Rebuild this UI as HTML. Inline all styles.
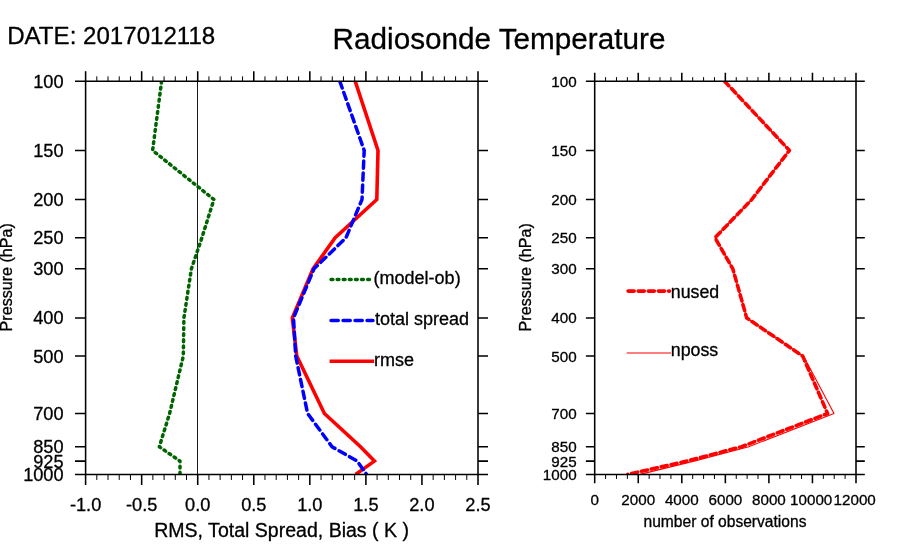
<!DOCTYPE html><html><head><meta charset="utf-8"><style>html,body{margin:0;padding:0;background:#fff}svg{display:block;will-change:transform}text{font-family:"Liberation Sans",sans-serif;fill:#000;stroke:#000;stroke-width:0.3px;stroke-linejoin:round}</style></head><body>
<svg width="900" height="560" viewBox="0 0 900 560">
<rect width="900" height="560" fill="#fff"/>
<text x="7.2" y="43.8" font-size="24.1">DATE: 2017012118</text>
<text x="499" y="48.8" font-size="29.7" text-anchor="middle">Radiosonde Temperature</text>
<defs><clipPath id="c1"><rect x="85.6" y="81.15" width="392.4" height="393.29999999999995"/></clipPath><clipPath id="c2"><rect x="594.7" y="81.15" width="261.29999999999995" height="393.29999999999995"/></clipPath></defs>
<g fill="none" stroke-linejoin="round">
<line x1="197.5" y1="81.15" x2="197.5" y2="474.45" stroke="#000" stroke-width="0.9"/>
<g clip-path="url(#c1)">
<polyline points="161.6,81.2 152.6,150.4 213.9,199.5 201.9,237.7 191.4,268.8 183.9,317.9 183.3,356.1 169.6,413.5 159.3,446.7 180.0,461.1 180.0,474.4" stroke="#006400" stroke-width="3.5" stroke-dasharray="1.8 4.3" stroke-linecap="round"/>
<polyline points="355.2,81.2 378.0,150.4 376.8,199.5 335.2,237.7 313.0,268.8 292.3,317.9 296.8,356.1 324.4,413.5 360.5,446.7 374.4,461.1 355.6,474.4" stroke="#ff0000" stroke-width="3.6" stroke-linejoin="miter"/>
<polyline points="339.8,81.2 364.2,150.4 362.0,199.5 346.0,237.7 314.0,268.8 293.5,317.9 295.7,356.1 307.6,413.5 332.0,446.7 357.2,461.1 366.6,474.4" stroke="#0000ff" stroke-width="3.5" stroke-dasharray="7.2 4.8" stroke-linecap="round"/>
</g>
<line x1="331.05" y1="279.4" x2="369.5" y2="279.4" stroke="#006400" stroke-width="3.5" stroke-dasharray="1.8 4.3" stroke-linecap="round"/>
<line x1="331.05" y1="320.4" x2="372.95" y2="320.4" stroke="#0000ff" stroke-width="3.5" stroke-dasharray="7.2 4.8" stroke-linecap="round"/>
<line x1="329.6" y1="361.3" x2="374.2" y2="361.3" stroke="#ff0000" stroke-width="3.6"/>
<g clip-path="url(#c2)">
<polyline points="724.6,81.2 789.4,150.4 751.8,199.5 715.0,237.7 732.8,268.8 746.7,317.9 803.5,356.1 834.0,413.5 748.8,446.7 694.0,461.1 640.0,474.4" stroke="#ff0000" stroke-width="1.1"/>
<polyline points="724.6,81.2 789.4,150.4 751.8,199.5 715.0,237.7 732.8,268.8 746.7,317.9 802.7,356.1 827.6,413.5 741.6,446.7 687.0,461.1 627.6,474.4" stroke="#ff0000" stroke-width="3.6" stroke-dasharray="6.1 4.0" stroke-linecap="round"/>
</g>
<line x1="628.1" y1="291.1" x2="669.5" y2="291.1" stroke="#ff0000" stroke-width="3.6" stroke-dasharray="6.1 4.0" stroke-linecap="round"/>
<line x1="626.6" y1="353" x2="671" y2="353" stroke="#ff0000" stroke-width="1.2"/>
</g>
<g stroke="#000" fill="none" stroke-linecap="butt">
<path stroke-width="1.55" d="M85.6,71.35000000000001 V484.95 M478.0,71.35000000000001 V484.95 M75.0,81.15 H488.0 M75.0,474.45 H488.0"/>
<path stroke-width="1.55" d="M141.66,71.35000000000001 V81.15 M141.66,474.45 V484.95 M197.71,71.35000000000001 V81.15 M197.71,474.45 V484.95 M253.77,71.35000000000001 V81.15 M253.77,474.45 V484.95 M309.83,71.35000000000001 V81.15 M309.83,474.45 V484.95 M365.89,71.35000000000001 V81.15 M365.89,474.45 V484.95 M421.94,71.35000000000001 V81.15 M421.94,474.45 V484.95 M75.0,150.41 H85.6 M478.0,150.41 H488.0 M75.0,199.55 H85.6 M478.0,199.55 H488.0 M75.0,237.66 H85.6 M478.0,237.66 H488.0 M75.0,268.80 H85.6 M478.0,268.80 H488.0 M75.0,317.94 H85.6 M478.0,317.94 H488.0 M75.0,356.05 H85.6 M478.0,356.05 H488.0 M75.0,413.53 H85.6 M478.0,413.53 H488.0 M75.0,446.69 H85.6 M478.0,446.69 H488.0 M75.0,461.13 H85.6 M478.0,461.13 H488.0"/>
<path stroke-width="1" d="M96.81,76.35000000000001 V81.15 M96.81,474.45 V479.95 M108.02,76.35000000000001 V81.15 M108.02,474.45 V479.95 M119.23,76.35000000000001 V81.15 M119.23,474.45 V479.95 M130.45,76.35000000000001 V81.15 M130.45,474.45 V479.95 M152.87,76.35000000000001 V81.15 M152.87,474.45 V479.95 M164.08,76.35000000000001 V81.15 M164.08,474.45 V479.95 M175.29,76.35000000000001 V81.15 M175.29,474.45 V479.95 M186.50,76.35000000000001 V81.15 M186.50,474.45 V479.95 M208.93,76.35000000000001 V81.15 M208.93,474.45 V479.95 M220.14,76.35000000000001 V81.15 M220.14,474.45 V479.95 M231.35,76.35000000000001 V81.15 M231.35,474.45 V479.95 M242.56,76.35000000000001 V81.15 M242.56,474.45 V479.95 M264.98,76.35000000000001 V81.15 M264.98,474.45 V479.95 M276.19,76.35000000000001 V81.15 M276.19,474.45 V479.95 M287.41,76.35000000000001 V81.15 M287.41,474.45 V479.95 M298.62,76.35000000000001 V81.15 M298.62,474.45 V479.95 M321.04,76.35000000000001 V81.15 M321.04,474.45 V479.95 M332.25,76.35000000000001 V81.15 M332.25,474.45 V479.95 M343.46,76.35000000000001 V81.15 M343.46,474.45 V479.95 M354.67,76.35000000000001 V81.15 M354.67,474.45 V479.95 M377.10,76.35000000000001 V81.15 M377.10,474.45 V479.95 M388.31,76.35000000000001 V81.15 M388.31,474.45 V479.95 M399.52,76.35000000000001 V81.15 M399.52,474.45 V479.95 M410.73,76.35000000000001 V81.15 M410.73,474.45 V479.95 M433.15,76.35000000000001 V81.15 M433.15,474.45 V479.95 M444.37,76.35000000000001 V81.15 M444.37,474.45 V479.95 M455.58,76.35000000000001 V81.15 M455.58,474.45 V479.95 M466.79,76.35000000000001 V81.15 M466.79,474.45 V479.95"/>
<path stroke-width="1.55" d="M594.7,72.65 V483.25 M856.0,72.65 V483.25 M585.9000000000001,81.15 H864.8 M585.9000000000001,474.45 H864.8"/>
<path stroke-width="1.55" d="M638.25,72.65 V81.15 M638.25,474.45 V483.25 M681.80,72.65 V81.15 M681.80,474.45 V483.25 M725.35,72.65 V81.15 M725.35,474.45 V483.25 M768.90,72.65 V81.15 M768.90,474.45 V483.25 M812.45,72.65 V81.15 M812.45,474.45 V483.25 M585.9000000000001,150.41 H594.7 M856.0,150.41 H864.8 M585.9000000000001,199.55 H594.7 M856.0,199.55 H864.8 M585.9000000000001,237.66 H594.7 M856.0,237.66 H864.8 M585.9000000000001,268.80 H594.7 M856.0,268.80 H864.8 M585.9000000000001,317.94 H594.7 M856.0,317.94 H864.8 M585.9000000000001,356.05 H594.7 M856.0,356.05 H864.8 M585.9000000000001,413.53 H594.7 M856.0,413.53 H864.8 M585.9000000000001,446.69 H594.7 M856.0,446.69 H864.8 M585.9000000000001,461.13 H594.7 M856.0,461.13 H864.8"/>
<path stroke-width="1" d="M605.59,77.15 V81.15 M605.59,474.45 V478.95 M616.48,77.15 V81.15 M616.48,474.45 V478.95 M627.36,77.15 V81.15 M627.36,474.45 V478.95 M649.14,77.15 V81.15 M649.14,474.45 V478.95 M660.03,77.15 V81.15 M660.03,474.45 V478.95 M670.91,77.15 V81.15 M670.91,474.45 V478.95 M692.69,77.15 V81.15 M692.69,474.45 V478.95 M703.58,77.15 V81.15 M703.58,474.45 V478.95 M714.46,77.15 V81.15 M714.46,474.45 V478.95 M736.24,77.15 V81.15 M736.24,474.45 V478.95 M747.12,77.15 V81.15 M747.12,474.45 V478.95 M758.01,77.15 V81.15 M758.01,474.45 V478.95 M779.79,77.15 V81.15 M779.79,474.45 V478.95 M790.68,77.15 V81.15 M790.68,474.45 V478.95 M801.56,77.15 V81.15 M801.56,474.45 V478.95 M823.34,77.15 V81.15 M823.34,474.45 V478.95 M834.23,77.15 V81.15 M834.23,474.45 V478.95 M845.11,77.15 V81.15 M845.11,474.45 V478.95"/>
</g>
<g font-size="18.2">
<text x="63.6" y="87.7" text-anchor="end">100</text>
<text x="63.6" y="156.9" text-anchor="end">150</text>
<text x="63.6" y="206.0" text-anchor="end">200</text>
<text x="63.6" y="244.2" text-anchor="end">250</text>
<text x="63.6" y="275.3" text-anchor="end">300</text>
<text x="63.6" y="324.4" text-anchor="end">400</text>
<text x="63.6" y="362.6" text-anchor="end">500</text>
<text x="63.6" y="420.0" text-anchor="end">700</text>
<text x="63.6" y="453.2" text-anchor="end">850</text>
<text x="63.6" y="467.6" text-anchor="end">925</text>
<text x="63.6" y="480.9" text-anchor="end">1000</text>
<text x="85.6" y="510.6" text-anchor="middle">-1.0</text>
<text x="141.7" y="510.6" text-anchor="middle">-0.5</text>
<text x="197.7" y="510.6" text-anchor="middle">0.0</text>
<text x="253.8" y="510.6" text-anchor="middle">0.5</text>
<text x="309.8" y="510.6" text-anchor="middle">1.0</text>
<text x="365.9" y="510.6" text-anchor="middle">1.5</text>
<text x="421.9" y="510.6" text-anchor="middle">2.0</text>
<text x="478.0" y="510.6" text-anchor="middle">2.5</text>
</g>
<text x="281.6" y="536.8" font-size="19.55" text-anchor="middle">RMS, Total Spread, Bias ( K )</text>
<text transform="translate(12,277.3) rotate(-90)" font-size="16.1" text-anchor="middle">Pressure (hPa)</text>
<g font-size="18"><text x="373.6" y="283.6">(model-ob)</text><text x="374.9" y="324.9">total spread</text><text x="374" y="366">rmse</text></g>
<g font-size="15.2">
<text x="576.6" y="86.6" text-anchor="end">100</text>
<text x="576.6" y="155.8" text-anchor="end">150</text>
<text x="576.6" y="204.9" text-anchor="end">200</text>
<text x="576.6" y="243.1" text-anchor="end">250</text>
<text x="576.6" y="274.2" text-anchor="end">300</text>
<text x="576.6" y="323.3" text-anchor="end">400</text>
<text x="576.6" y="361.5" text-anchor="end">500</text>
<text x="576.6" y="418.9" text-anchor="end">700</text>
<text x="576.6" y="452.1" text-anchor="end">850</text>
<text x="576.6" y="466.5" text-anchor="end">925</text>
<text x="576.6" y="479.8" text-anchor="end">1000</text>
<text x="594.7" y="505" text-anchor="middle">0</text>
<text x="638.2" y="505" text-anchor="middle">2000</text>
<text x="681.8" y="505" text-anchor="middle">4000</text>
<text x="725.4" y="505" text-anchor="middle">6000</text>
<text x="768.9" y="505" text-anchor="middle">8000</text>
<text x="811.2" y="505" text-anchor="middle">10000</text>
<text x="854.7" y="505" text-anchor="middle">12000</text>
</g>
<text x="725" y="527.3" font-size="15.6" text-anchor="middle">number of observations</text>
<text transform="translate(531.3,277.3) rotate(-90)" font-size="16.1" text-anchor="middle">Pressure (hPa)</text>
<g font-size="17.8"><text x="670.8" y="297.7">nused</text><text x="670.8" y="355.8">nposs</text></g>
</svg></body></html>
